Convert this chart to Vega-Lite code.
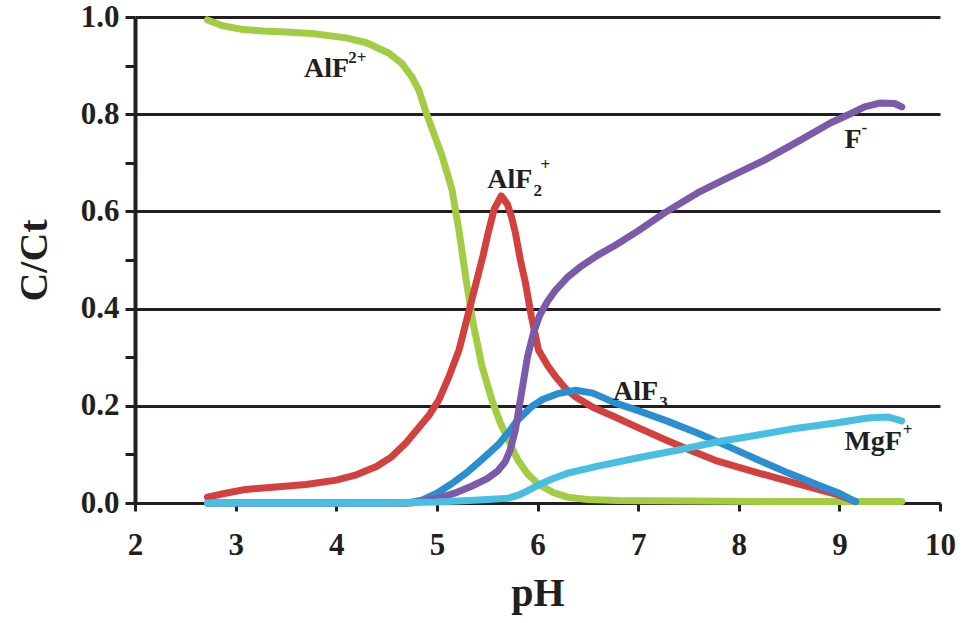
{
  "$schema": "https://vega.github.io/schema/vega-lite/v6.json",
  "autosize": {"type": "none"},
  "width": 805,
  "height": 486,
  "padding": {"left": 135, "top": 17, "right": 25, "bottom": 120},
  "background": "white",
  "config": {
    "view": {"stroke": null},
    "font": "Liberation Serif",
    "axis": {"labelFont": "Liberation Serif", "titleFont": "Liberation Serif", "labelFontWeight": "bold", "titleFontWeight": "bold", "labelColor": "#231f20", "titleColor": "#231f20"}
  },
  "datasets": {
    "curves": [
      {"species": "AlF2+", "pH": 2.72, "C": 0.994},
      {"species": "AlF2+", "pH": 2.87, "C": 0.982},
      {"species": "AlF2+", "pH": 3.05, "C": 0.975},
      {"species": "AlF2+", "pH": 3.27, "C": 0.971},
      {"species": "AlF2+", "pH": 3.5, "C": 0.969},
      {"species": "AlF2+", "pH": 3.76, "C": 0.966},
      {"species": "AlF2+", "pH": 4.1, "C": 0.957},
      {"species": "AlF2+", "pH": 4.3, "C": 0.947},
      {"species": "AlF2+", "pH": 4.52, "C": 0.926},
      {"species": "AlF2+", "pH": 4.65, "C": 0.905},
      {"species": "AlF2+", "pH": 4.75, "C": 0.877},
      {"species": "AlF2+", "pH": 4.82, "C": 0.85},
      {"species": "AlF2+", "pH": 4.89, "C": 0.805},
      {"species": "AlF2+", "pH": 4.97, "C": 0.76},
      {"species": "AlF2+", "pH": 5.05, "C": 0.715},
      {"species": "AlF2+", "pH": 5.1, "C": 0.68},
      {"species": "AlF2+", "pH": 5.15, "C": 0.645},
      {"species": "AlF2+", "pH": 5.22, "C": 0.56},
      {"species": "AlF2+", "pH": 5.29, "C": 0.46},
      {"species": "AlF2+", "pH": 5.36, "C": 0.37},
      {"species": "AlF2+", "pH": 5.45, "C": 0.28},
      {"species": "AlF2+", "pH": 5.55, "C": 0.21},
      {"species": "AlF2+", "pH": 5.63, "C": 0.165},
      {"species": "AlF2+", "pH": 5.71, "C": 0.13},
      {"species": "AlF2+", "pH": 5.8, "C": 0.09},
      {"species": "AlF2+", "pH": 5.9, "C": 0.06},
      {"species": "AlF2+", "pH": 6.0, "C": 0.04},
      {"species": "AlF2+", "pH": 6.15, "C": 0.022},
      {"species": "AlF2+", "pH": 6.3, "C": 0.012},
      {"species": "AlF2+", "pH": 6.5, "C": 0.007},
      {"species": "AlF2+", "pH": 6.8, "C": 0.005},
      {"species": "AlF2+", "pH": 7.5, "C": 0.004},
      {"species": "AlF2+", "pH": 8.5, "C": 0.003},
      {"species": "AlF2+", "pH": 9.62, "C": 0.003},

      {"species": "AlF2p", "pH": 2.72, "C": 0.012},
      {"species": "AlF2p", "pH": 2.9, "C": 0.02},
      {"species": "AlF2p", "pH": 3.1, "C": 0.028},
      {"species": "AlF2p", "pH": 3.4, "C": 0.033},
      {"species": "AlF2p", "pH": 3.7, "C": 0.038},
      {"species": "AlF2p", "pH": 4.0, "C": 0.047},
      {"species": "AlF2p", "pH": 4.2, "C": 0.058},
      {"species": "AlF2p", "pH": 4.4, "C": 0.075},
      {"species": "AlF2p", "pH": 4.55, "C": 0.095},
      {"species": "AlF2p", "pH": 4.69, "C": 0.123},
      {"species": "AlF2p", "pH": 4.8, "C": 0.15},
      {"species": "AlF2p", "pH": 4.92, "C": 0.18},
      {"species": "AlF2p", "pH": 5.02, "C": 0.212},
      {"species": "AlF2p", "pH": 5.12, "C": 0.26},
      {"species": "AlF2p", "pH": 5.22, "C": 0.315},
      {"species": "AlF2p", "pH": 5.3, "C": 0.38},
      {"species": "AlF2p", "pH": 5.39, "C": 0.453},
      {"species": "AlF2p", "pH": 5.46, "C": 0.51},
      {"species": "AlF2p", "pH": 5.51, "C": 0.556},
      {"species": "AlF2p", "pH": 5.57, "C": 0.605},
      {"species": "AlF2p", "pH": 5.64, "C": 0.632},
      {"species": "AlF2p", "pH": 5.7, "C": 0.615},
      {"species": "AlF2p", "pH": 5.74, "C": 0.59},
      {"species": "AlF2p", "pH": 5.78, "C": 0.556},
      {"species": "AlF2p", "pH": 5.83, "C": 0.5},
      {"species": "AlF2p", "pH": 5.88, "C": 0.453},
      {"species": "AlF2p", "pH": 5.94, "C": 0.383},
      {"species": "AlF2p", "pH": 6.01, "C": 0.315},
      {"species": "AlF2p", "pH": 6.1, "C": 0.283},
      {"species": "AlF2p", "pH": 6.18, "C": 0.26},
      {"species": "AlF2p", "pH": 6.28, "C": 0.235},
      {"species": "AlF2p", "pH": 6.38, "C": 0.218},
      {"species": "AlF2p", "pH": 6.55, "C": 0.197},
      {"species": "AlF2p", "pH": 6.77, "C": 0.177},
      {"species": "AlF2p", "pH": 7.0, "C": 0.155},
      {"species": "AlF2p", "pH": 7.27, "C": 0.13},
      {"species": "AlF2p", "pH": 7.5, "C": 0.11},
      {"species": "AlF2p", "pH": 7.79, "C": 0.086},
      {"species": "AlF2p", "pH": 8.19, "C": 0.062},
      {"species": "AlF2p", "pH": 8.58, "C": 0.04},
      {"species": "AlF2p", "pH": 8.98, "C": 0.017},
      {"species": "AlF2p", "pH": 9.16, "C": 0.003},

      {"species": "AlF3", "pH": 2.72, "C": 0.0},
      {"species": "AlF3", "pH": 4.7, "C": 0.0},
      {"species": "AlF3", "pH": 4.85, "C": 0.006},
      {"species": "AlF3", "pH": 5.0, "C": 0.02},
      {"species": "AlF3", "pH": 5.15, "C": 0.04},
      {"species": "AlF3", "pH": 5.3, "C": 0.063},
      {"species": "AlF3", "pH": 5.45, "C": 0.09},
      {"species": "AlF3", "pH": 5.61, "C": 0.12},
      {"species": "AlF3", "pH": 5.71, "C": 0.145},
      {"species": "AlF3", "pH": 5.8, "C": 0.17},
      {"species": "AlF3", "pH": 5.94, "C": 0.198},
      {"species": "AlF3", "pH": 6.05, "C": 0.213},
      {"species": "AlF3", "pH": 6.2, "C": 0.225},
      {"species": "AlF3", "pH": 6.38, "C": 0.232},
      {"species": "AlF3", "pH": 6.55, "C": 0.226},
      {"species": "AlF3", "pH": 6.77, "C": 0.206},
      {"species": "AlF3", "pH": 7.0, "C": 0.19},
      {"species": "AlF3", "pH": 7.27, "C": 0.17},
      {"species": "AlF3", "pH": 7.59, "C": 0.144},
      {"species": "AlF3", "pH": 7.9, "C": 0.116},
      {"species": "AlF3", "pH": 8.2, "C": 0.088},
      {"species": "AlF3", "pH": 8.5, "C": 0.061},
      {"species": "AlF3", "pH": 8.8, "C": 0.036},
      {"species": "AlF3", "pH": 9.0, "C": 0.02},
      {"species": "AlF3", "pH": 9.16, "C": 0.003},

      {"species": "F-", "pH": 2.72, "C": 0.0},
      {"species": "F-", "pH": 4.75, "C": 0.0},
      {"species": "F-", "pH": 4.9, "C": 0.005},
      {"species": "F-", "pH": 5.05, "C": 0.012},
      {"species": "F-", "pH": 5.2, "C": 0.022},
      {"species": "F-", "pH": 5.35, "C": 0.035},
      {"species": "F-", "pH": 5.5, "C": 0.05},
      {"species": "F-", "pH": 5.6, "C": 0.065},
      {"species": "F-", "pH": 5.68, "C": 0.085},
      {"species": "F-", "pH": 5.73, "C": 0.11},
      {"species": "F-", "pH": 5.78, "C": 0.15},
      {"species": "F-", "pH": 5.82, "C": 0.2},
      {"species": "F-", "pH": 5.86, "C": 0.25},
      {"species": "F-", "pH": 5.9, "C": 0.3},
      {"species": "F-", "pH": 5.96, "C": 0.35},
      {"species": "F-", "pH": 6.02, "C": 0.385},
      {"species": "F-", "pH": 6.1, "C": 0.415},
      {"species": "F-", "pH": 6.18, "C": 0.438},
      {"species": "F-", "pH": 6.3, "C": 0.465},
      {"species": "F-", "pH": 6.44, "C": 0.488},
      {"species": "F-", "pH": 6.6, "C": 0.51},
      {"species": "F-", "pH": 6.77, "C": 0.53},
      {"species": "F-", "pH": 7.0, "C": 0.56},
      {"species": "F-", "pH": 7.27, "C": 0.598},
      {"species": "F-", "pH": 7.59, "C": 0.638},
      {"species": "F-", "pH": 7.9, "C": 0.67},
      {"species": "F-", "pH": 8.26, "C": 0.706},
      {"species": "F-", "pH": 8.6, "C": 0.745},
      {"species": "F-", "pH": 8.91, "C": 0.782},
      {"species": "F-", "pH": 9.1, "C": 0.8},
      {"species": "F-", "pH": 9.25, "C": 0.815},
      {"species": "F-", "pH": 9.4, "C": 0.823},
      {"species": "F-", "pH": 9.55, "C": 0.822},
      {"species": "F-", "pH": 9.62, "C": 0.815},

      {"species": "MgF+", "pH": 2.72, "C": 0.0},
      {"species": "MgF+", "pH": 4.5, "C": 0.0},
      {"species": "MgF+", "pH": 5.0, "C": 0.002},
      {"species": "MgF+", "pH": 5.42, "C": 0.006},
      {"species": "MgF+", "pH": 5.71, "C": 0.01},
      {"species": "MgF+", "pH": 5.81, "C": 0.016},
      {"species": "MgF+", "pH": 5.9, "C": 0.025},
      {"species": "MgF+", "pH": 6.01, "C": 0.037},
      {"species": "MgF+", "pH": 6.15, "C": 0.05},
      {"species": "MgF+", "pH": 6.31, "C": 0.062},
      {"species": "MgF+", "pH": 6.6, "C": 0.076},
      {"species": "MgF+", "pH": 7.0, "C": 0.093},
      {"species": "MgF+", "pH": 7.4, "C": 0.109},
      {"species": "MgF+", "pH": 7.79, "C": 0.126},
      {"species": "MgF+", "pH": 8.19, "C": 0.14},
      {"species": "MgF+", "pH": 8.58, "C": 0.154},
      {"species": "MgF+", "pH": 8.98, "C": 0.165},
      {"species": "MgF+", "pH": 9.28, "C": 0.175},
      {"species": "MgF+", "pH": 9.48, "C": 0.177},
      {"species": "MgF+", "pH": 9.62, "C": 0.169}
    ],
    "mainLabels": [
      {"pH": 3.68, "C": 0.877, "text": "AlF"},
      {"pH": 5.5, "C": 0.648, "text": "AlF"},
      {"pH": 6.75, "C": 0.212, "text": "AlF"},
      {"pH": 9.05, "C": 0.73, "text": "F"},
      {"pH": 9.05, "C": 0.109, "text": "MgF"}
    ],
    "supLabels": [
      {"pH": 4.12, "C": 0.905, "text": "2+"},
      {"pH": 6.03, "C": 0.685, "text": "+"},
      {"pH": 9.22, "C": 0.762, "text": "-"},
      {"pH": 9.63, "C": 0.14, "text": "+"}
    ],
    "subLabels": [
      {"pH": 5.96, "C": 0.632, "text": "2"},
      {"pH": 7.21, "C": 0.196, "text": "3"}
    ]
  },
  "layer": [
    {
      "data": {"name": "curves"},
      "mark": {"type": "line", "strokeWidth": 7, "strokeCap": "round", "strokeJoin": "round", "clip": false},
      "encoding": {
        "x": {
          "field": "pH", "type": "quantitative",
          "scale": {"domain": [2, 10], "nice": false, "zero": false},
          "axis": {
            "values": [2, 3, 4, 5, 6, 7, 8, 9, 10],
            "format": "d",
            "title": "pH",
            "titleFontSize": 40,
            "titlePadding": 13,
            "labelFontSize": 31,
            "labelPadding": 19,
            "tickSize": 8,
            "tickWidth": 3,
            "tickColor": "#231f20",
            "domainColor": "#231f20",
            "domainWidth": 3,
            "grid": false,
            "labelFlush": false
          }
        },
        "y": {
          "field": "C", "type": "quantitative",
          "scale": {"domain": [0, 1], "nice": false},
          "axis": {
            "values": [0, 0.1, 0.2, 0.3, 0.4, 0.5, 0.6, 0.7, 0.8, 0.9, 1.0],
            "format": ".1f",
            "labelExpr": "round(datum.value*10) % 2 === 1 ? '' : datum.label",
            "title": "C/Ct",
            "titleFontSize": 40,
            "titlePadding": 26,
            "labelFontSize": 31,
            "labelPadding": 6,
            "tickSize": 10,
            "tickWidth": 3,
            "tickColor": "#231f20",
            "domainColor": "#231f20",
            "domainWidth": 4,
            "grid": true,
            "gridColor": "#231f20",
            "gridWidth": 3,
            "gridOpacity": {"condition": {"test": "round(datum.value*10) % 2 === 1", "value": 0}, "value": 1},
            "labelFlush": false
          }
        },
        "color": {
          "field": "species", "type": "nominal",
          "scale": {
            "domain": ["AlF2p", "AlF3", "F-", "AlF2+", "MgF+"],
            "range": ["#d2413d", "#2a8fd2", "#7b5aa9", "#a3cc45", "#48bfe2"]
          },
          "legend": null
        }
      }
    },
    {
      "data": {"name": "mainLabels"},
      "mark": {"type": "text", "font": "Liberation Serif", "fontWeight": "bold", "fontSize": 28, "align": "left", "baseline": "alphabetic", "color": "#231f20"},
      "encoding": {
        "x": {"field": "pH", "type": "quantitative"},
        "y": {"field": "C", "type": "quantitative"},
        "text": {"field": "text"}
      }
    },
    {
      "data": {"name": "supLabels"},
      "mark": {"type": "text", "font": "Liberation Serif", "fontWeight": "bold", "fontSize": 17, "align": "left", "baseline": "alphabetic", "color": "#231f20"},
      "encoding": {
        "x": {"field": "pH", "type": "quantitative"},
        "y": {"field": "C", "type": "quantitative"},
        "text": {"field": "text"}
      }
    },
    {
      "data": {"name": "subLabels"},
      "mark": {"type": "text", "font": "Liberation Serif", "fontWeight": "bold", "fontSize": 17, "align": "left", "baseline": "alphabetic", "color": "#231f20"},
      "encoding": {
        "x": {"field": "pH", "type": "quantitative"},
        "y": {"field": "C", "type": "quantitative"},
        "text": {"field": "text"}
      }
    }
  ]
}
